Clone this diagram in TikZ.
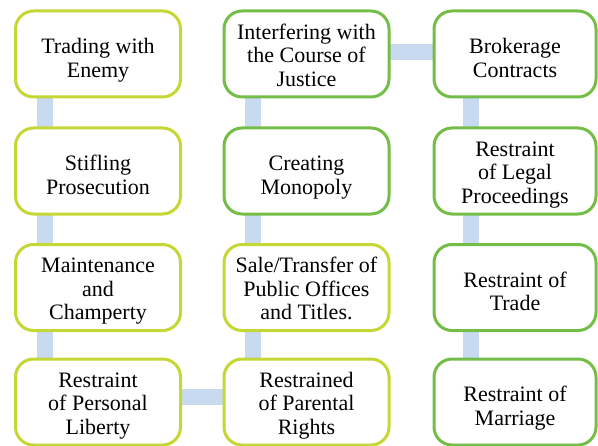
\documentclass[tikz,border=0pt]{standalone}
\usepackage{fontspec}
\setmainfont{Liberation Serif}
\usetikzlibrary{backgrounds}
\definecolor{limeline}{RGB}{196,215,52}
\definecolor{greenline}{RGB}{116,190,72}
\definecolor{linkblue}{RGB}{200,218,240}
\begin{document}
\begin{tikzpicture}[x=0.75pt,y=-0.75pt,
           box_style/.style={rectangle,rounded corners=13.5pt,draw=limeline,line width=2.25pt,fill=white,
             minimum width=123.75pt,minimum height=64.5pt,align=center,inner sep=2pt,
             text height=48.5pt,text depth=0pt,font=\fontsize{16.5}{17.6}\selectfont},
           box_style_green/.style={box_style,draw=greenline},
           two_lines/.style={text height=35pt},
           link_style/.style={draw=linkblue,line width=12pt}]
            \useasboundingbox (0,0) rectangle (598,445);
            \node[box_style,two_lines] (t1) at (98, 54)  {Trading with\\Enemy};
            \node[box_style,two_lines] (t2) at (98, 171)  {Stifling\\Prosecution};
            \node[box_style] (t3) at (98, 287.5)  {Maintenance\\and\\Champerty};
            \node[box_style] (t4) at (98, 402)  {Restraint\\of Personal\\Liberty};
            \node[box_style_green] (i1) at (306.5, 54)  {Interfering with\\the Course of\\Justice};
            \node[box_style_green,two_lines] (i2) at (306.5, 171)  {Creating\\Monopoly};
            \node[box_style] (i3) at (306.5, 287.5)  {Sale/Transfer of\\Public Offices\\and Titles.};
            \node[box_style] (i4) at (306.5, 402)  {Restrained\\of Parental\\Rights};
            \node[box_style_green,two_lines,minimum width=121.5pt] (b1) at (515, 54)  {Brokerage\\Contracts};
            \node[box_style_green,minimum width=121.5pt] (b2) at (515, 171)  {Restraint\\of Legal\\Proceedings};
            \node[box_style_green,two_lines,minimum width=121.5pt] (b3) at (515, 287.5)  {Restraint of\\Trade};
            \node[box_style_green,two_lines,minimum width=121.5pt] (b4) at (515, 402)  {Restraint of\\Marriage};
            \begin{scope}[on background layer]
            \draw[link_style]  ([xshift=-39.75pt]t1.center) -- ([xshift=-39.75pt]t2.center);
            \draw[link_style]  ([xshift=-39.75pt]t2.center) -- ([xshift=-39.75pt]t3.center);
            \draw[link_style]  ([xshift=-39.75pt]t3.center) -- ([xshift=-39.75pt]t4.center);
            \draw[link_style]  ([yshift=4pt]t4.center) -- ([yshift=4pt]i4.center);
            \draw[link_style]  ([xshift=-40pt]i4.center) -- ([xshift=-40pt]i3.center);
            \draw[link_style]  ([xshift=-40pt]i3.center) -- ([xshift=-40pt]i2.center);
            \draw[link_style]  ([xshift=-40pt]i2.center) -- ([xshift=-40pt]i1.center);
            \draw[link_style]  ([yshift=1.5pt]i1.center) -- ([yshift=1.5pt]b1.center);
            \draw[link_style]  ([xshift=-33pt]b1.center) -- ([xshift=-33pt]b2.center);
            \draw[link_style]  ([xshift=-33pt]b2.center) -- ([xshift=-33pt]b3.center);
            \draw[link_style]  ([xshift=-33pt]b3.center) -- ([xshift=-33pt]b4.center);
            \end{scope}
        \end{tikzpicture}
\end{document}
